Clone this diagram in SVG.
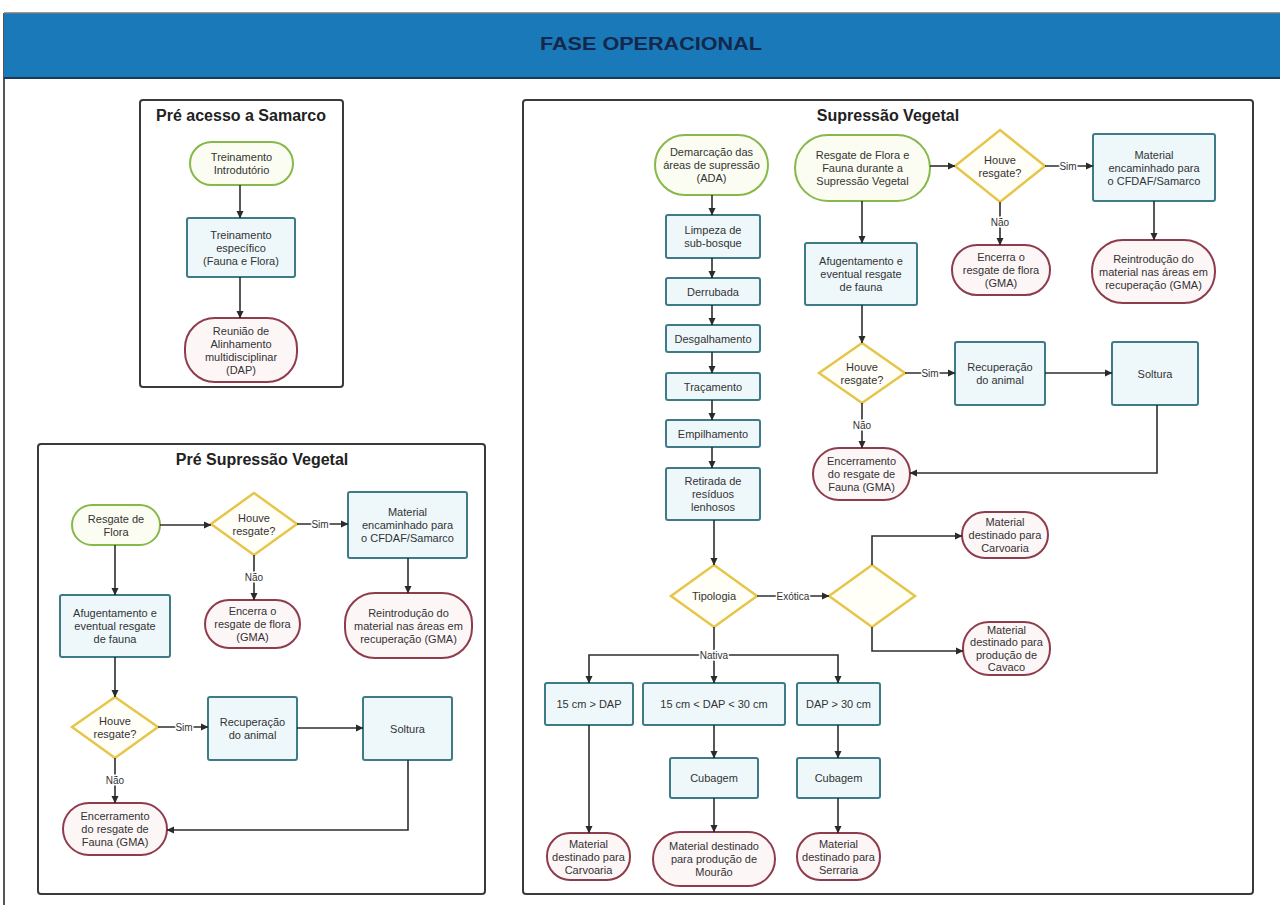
<svg xmlns="http://www.w3.org/2000/svg" width="1280" height="905" viewBox="0 0 1280 905">
<defs>
<marker id="arr" markerUnits="userSpaceOnUse" markerWidth="8" markerHeight="8" refX="7" refY="4" orient="auto">
<path d="M0,0.5 L7.5,4 L0,7.5 z" fill="#2a2a2a"/>
</marker>
<style>
.grp{fill:#fff;stroke:#3a3a3a;stroke-width:2}
.start{fill:#fbfdf2;stroke:#86b84a;stroke-width:2}
.proc{fill:#eef8fb;stroke:#3e7b86;stroke-width:2}
.end{fill:#fdf6f7;stroke:#8e3b4c;stroke-width:2}
.dec{fill:#fffef7;stroke:#e6c64a;stroke-width:2.5}
text{font-family:"Liberation Sans",Arial,sans-serif}
.t{font-size:11px;fill:#333;text-anchor:middle}
.ttl{font-size:16px;font-weight:bold;fill:#222;text-anchor:middle}
.lbl{font-size:10px;fill:#333;text-anchor:middle;stroke:#fff;stroke-width:3;paint-order:stroke}
.e{fill:none;stroke:#2e2e2e;stroke-width:1.6;marker-end:url(#arr)}
.en{fill:none;stroke:#2e2e2e;stroke-width:1.6}
</style>
</defs>
<rect x="0" y="0" width="1280" height="905" fill="#fff"/>
<g id="header">
<line x1="4" y1="13" x2="4" y2="905" stroke="#555" stroke-width="2"/>
<rect x="4" y="13" width="1280" height="65" fill="#1a79b9"/>
<line x1="4" y1="13" x2="1280" y2="13" stroke="#777" stroke-width="1.5"/>
<line x1="4" y1="78" x2="1280" y2="78" stroke="#1c3a58" stroke-width="2"/>
<text x="651" y="50" font-size="19" font-weight="bold" fill="#13284a" text-anchor="middle" textLength="222" lengthAdjust="spacingAndGlyphs">FASE OPERACIONAL</text>
</g>

<g id="pre-acesso">
<rect class="grp" x="140" y="100" width="203" height="287" rx="3"/>
<text class="ttl" x="241" y="121">Pré acesso a Samarco</text>
</g>
<g id="pa1"><rect class="start" x="190" y="142" width="103" height="43" rx="21.5"/><text class="t" x="241.5" y="161">Treinamento<tspan x="241.5" dy="13">Introdutório</tspan></text></g>
<g id="pa2"><rect class="proc" x="187" y="218" width="108" height="59" rx="2"/><text class="t" x="241" y="238.5">Treinamento<tspan x="241" dy="13">específico</tspan><tspan x="241" dy="13">(Fauna e Flora)</tspan></text></g>
<g id="pa3"><rect class="end" x="185" y="318" width="112" height="64" rx="30"/><text class="t" x="241" y="334.5">Reunião de<tspan x="241" dy="13">Alinhamento</tspan><tspan x="241" dy="13">multidisciplinar</tspan><tspan x="241" dy="13">(DAP)</tspan></text></g>

<g id="pre-supressao">
<rect class="grp" x="38" y="444" width="447" height="450" rx="3"/>
<text class="ttl" x="262" y="465">Pré Supressão Vegetal</text>
</g>
<g id="ps1"><rect class="start" x="72" y="505" width="88" height="40" rx="20"/><text class="t" x="116" y="522.5">Resgate de<tspan x="116" dy="13">Flora</tspan></text></g>
<g id="ps2"><polygon class="dec" points="254,493 297,524 254,555 211,524"/><text class="t" x="254" y="521.5">Houve<tspan x="254" dy="13">resgate?</tspan></text></g>
<g id="ps3"><rect class="proc" x="348" y="492" width="119" height="66" rx="2"/><text class="t" x="407.5" y="516">Material<tspan x="407.5" dy="13">encaminhado para</tspan><tspan x="407.5" dy="13">o CFDAF/Samarco</tspan></text></g>
<g id="ps4"><rect class="end" x="205" y="600" width="95" height="48" rx="24"/><text class="t" x="252.5" y="615">Encerra o<tspan x="252.5" dy="13">resgate de flora</tspan><tspan x="252.5" dy="13">(GMA)</tspan></text></g>
<g id="ps5"><rect class="end" x="345" y="593" width="127" height="65" rx="30"/><text class="t" x="408.5" y="616.5">Reintrodução do<tspan x="408.5" dy="13">material nas áreas em</tspan><tspan x="408.5" dy="13">recuperação (GMA)</tspan></text></g>
<g id="ps6"><rect class="proc" x="60" y="595" width="110" height="62" rx="2"/><text class="t" x="115" y="617">Afugentamento e<tspan x="115" dy="13">eventual resgate</tspan><tspan x="115" dy="13">de fauna</tspan></text></g>
<g id="ps7"><polygon class="dec" points="115,697 158,727 115,758 72,727"/><text class="t" x="115" y="724.5">Houve<tspan x="115" dy="13">resgate?</tspan></text></g>
<g id="ps8"><rect class="proc" x="208" y="697" width="89" height="63" rx="2"/><text class="t" x="252.5" y="726">Recuperação<tspan x="252.5" dy="13">do animal</tspan></text></g>
<g id="ps9"><rect class="proc" x="363" y="697" width="89" height="63" rx="2"/><text class="t" x="407.5" y="732.5">Soltura</text></g>
<g id="ps10"><rect class="end" x="63" y="803" width="104" height="52" rx="26"/><text class="t" x="115" y="820">Encerramento<tspan x="115" dy="13">do resgate de</tspan><tspan x="115" dy="13">Fauna (GMA)</tspan></text></g>

<g id="supressao">
<rect class="grp" x="523" y="100" width="730" height="794" rx="3"/>
<text class="ttl" x="888" y="121">Supressão Vegetal</text>
</g>
<g id="s1"><rect class="start" x="655" y="135" width="113" height="60" rx="30"/><text class="t" x="711.5" y="156">Demarcação das<tspan x="711.5" dy="13">áreas de supressão</tspan><tspan x="711.5" dy="13">(ADA)</tspan></text></g>
<g id="s2"><rect class="proc" x="666" y="215" width="94" height="43" rx="2"/><text class="t" x="713" y="234">Limpeza de<tspan x="713" dy="13">sub-bosque</tspan></text></g>
<g id="s3"><rect class="proc" x="666" y="278" width="94" height="27" rx="2"/><text class="t" x="713" y="295.5">Derrubada</text></g>
<g id="s4"><rect class="proc" x="666" y="325" width="94" height="27" rx="2"/><text class="t" x="713" y="342.5">Desgalhamento</text></g>
<g id="s5"><rect class="proc" x="666" y="373" width="94" height="27" rx="2"/><text class="t" x="713" y="390.5">Traçamento</text></g>
<g id="s6"><rect class="proc" x="666" y="420" width="94" height="27" rx="2"/><text class="t" x="713" y="437.5">Empilhamento</text></g>
<g id="s7"><rect class="proc" x="666" y="468" width="94" height="52" rx="2"/><text class="t" x="713" y="485">Retirada de<tspan x="713" dy="13">resíduos</tspan><tspan x="713" dy="13">lenhosos</tspan></text></g>
<g id="s8"><polygon class="dec" points="714,565 757,596 714,627 671,596"/><text class="t" x="714" y="600">Tipologia</text></g>
<g id="s9"><polygon class="dec" points="872,565 915,596 872,627 829,596"/></g>
<g id="s10"><rect class="end" x="962" y="512" width="86" height="46" rx="23"/><text class="t" x="1005" y="526">Material<tspan x="1005" dy="13">destinado para</tspan><tspan x="1005" dy="13">Carvoaria</tspan></text></g>
<g id="s11"><rect class="end" x="963" y="622" width="87" height="53" rx="26"/><text class="t" x="1006.5" y="634">Material<tspan x="1006.5" dy="12.3">destinado para</tspan><tspan x="1006.5" dy="12.3">produção de</tspan><tspan x="1006.5" dy="12.3">Cavaco</tspan></text></g>
<g id="s12"><rect class="proc" x="545" y="683" width="88" height="42" rx="2"/><text class="t" x="589" y="708">15 cm &gt; DAP</text></g>
<g id="s13"><rect class="proc" x="643" y="683" width="142" height="42" rx="2"/><text class="t" x="714" y="708">15 cm &lt; DAP &lt; 30 cm</text></g>
<g id="s14"><rect class="proc" x="797" y="683" width="83" height="42" rx="2"/><text class="t" x="838.5" y="708">DAP &gt; 30 cm</text></g>
<g id="s15"><rect class="proc" x="670" y="758" width="88" height="40" rx="2"/><text class="t" x="714" y="782">Cubagem</text></g>
<g id="s16"><rect class="proc" x="797" y="758" width="83" height="40" rx="2"/><text class="t" x="838.5" y="782">Cubagem</text></g>
<g id="s17"><rect class="end" x="547" y="833" width="83" height="47" rx="23"/><text class="t" x="588.5" y="847.5">Material<tspan x="588.5" dy="13">destinado para</tspan><tspan x="588.5" dy="13">Carvoaria</tspan></text></g>
<g id="s18"><rect class="end" x="653" y="832" width="122" height="54" rx="27"/><text class="t" x="714" y="850">Material destinado<tspan x="714" dy="13">para produção de</tspan><tspan x="714" dy="13">Mourão</tspan></text></g>
<g id="s19"><rect class="end" x="797" y="833" width="83" height="47" rx="23"/><text class="t" x="838.5" y="847.5">Material<tspan x="838.5" dy="13">destinado para</tspan><tspan x="838.5" dy="13">Serraria</tspan></text></g>
<g id="s20"><rect class="start" x="795" y="135" width="135" height="66" rx="33"/><text class="t" x="862.5" y="159">Resgate de Flora e<tspan x="862.5" dy="13">Fauna durante a</tspan><tspan x="862.5" dy="13">Supressão Vegetal</tspan></text></g>
<g id="s21"><polygon class="dec" points="1000,130 1045,166 1000,202 955,166"/><text class="t" x="1000" y="163.5">Houve<tspan x="1000" dy="13">resgate?</tspan></text></g>
<g id="s22"><rect class="proc" x="1093" y="134" width="122" height="67" rx="2"/><text class="t" x="1154" y="158.5">Material<tspan x="1154" dy="13">encaminhado para</tspan><tspan x="1154" dy="13">o CFDAF/Samarco</tspan></text></g>
<g id="s23"><rect class="end" x="952" y="245" width="98" height="50" rx="25"/><text class="t" x="1001" y="261">Encerra o<tspan x="1001" dy="13">resgate de flora</tspan><tspan x="1001" dy="13">(GMA)</tspan></text></g>
<g id="s24"><rect class="end" x="1092" y="240" width="123" height="63" rx="31"/><text class="t" x="1153.5" y="262.5">Reintrodução do<tspan x="1153.5" dy="13">material nas áreas em</tspan><tspan x="1153.5" dy="13">recuperação (GMA)</tspan></text></g>
<g id="s25"><rect class="proc" x="805" y="243" width="112" height="62" rx="2"/><text class="t" x="861" y="265">Afugentamento e<tspan x="861" dy="13">eventual resgate</tspan><tspan x="861" dy="13">de fauna</tspan></text></g>
<g id="s26"><polygon class="dec" points="862,343 905,373 862,403 819,373"/><text class="t" x="862" y="370.5">Houve<tspan x="862" dy="13">resgate?</tspan></text></g>
<g id="s27"><rect class="proc" x="955" y="342" width="90" height="63" rx="2"/><text class="t" x="1000" y="371">Recuperação<tspan x="1000" dy="13">do animal</tspan></text></g>
<g id="s28"><rect class="proc" x="1112" y="342" width="86" height="63" rx="2"/><text class="t" x="1155" y="377.5">Soltura</text></g>
<g id="s29"><rect class="end" x="813" y="448" width="97" height="52" rx="26"/><text class="t" x="861.5" y="465">Encerramento<tspan x="861.5" dy="13">do resgate de</tspan><tspan x="861.5" dy="13">Fauna (GMA)</tspan></text></g>

<g id="connectors">
<path class="e" d="M240,185 V218"/>
<path class="e" d="M240,277 V318"/>

<path class="e" d="M160,525 H211"/>
<path class="e" d="M297,524 H348"/>
<path class="e" d="M254,555 V600"/>
<path class="e" d="M408,558 V593"/>
<path class="e" d="M115,545 V595"/>
<path class="e" d="M115,657 V697"/>
<path class="e" d="M158,727 H208"/>
<path class="e" d="M297,728 H363"/>
<path class="e" d="M115,758 V803"/>
<path class="e" d="M408,760 V830 H167"/>

<path class="e" d="M712,195 V215"/>
<path class="e" d="M712,258 V278"/>
<path class="e" d="M712,305 V325"/>
<path class="e" d="M712,352 V373"/>
<path class="e" d="M712,400 V420"/>
<path class="e" d="M712,447 V468"/>
<path class="e" d="M714,520 V565"/>
<path class="e" d="M757,596 H829"/>
<path class="e" d="M872,565 V536 H962"/>
<path class="e" d="M872,627 V651 H963"/>
<path class="en" d="M714,627 V655"/>
<path class="e" d="M714,655 H589 V683"/>
<path class="e" d="M714,655 V683"/>
<path class="e" d="M714,655 H838 V683"/>
<path class="e" d="M589,725 V833"/>
<path class="e" d="M714,725 V758"/>
<path class="e" d="M714,798 V832"/>
<path class="e" d="M838,725 V758"/>
<path class="e" d="M838,798 V833"/>
<path class="e" d="M930,166 H955"/>
<path class="e" d="M1045,166 H1093"/>
<path class="e" d="M1000,202 V245"/>
<path class="e" d="M1154,201 V240"/>
<path class="e" d="M862,201 V243"/>
<path class="e" d="M862,305 V343"/>
<path class="e" d="M905,373 H955"/>
<path class="e" d="M1045,373 H1112"/>
<path class="e" d="M862,403 V448"/>
<path class="e" d="M1157,405 V473 H910"/>

<text class="lbl" x="320" y="527.5">Sim</text>
<text class="lbl" x="254" y="581">Não</text>
<text class="lbl" x="184" y="730.5">Sim</text>
<text class="lbl" x="115" y="784">Não</text>
<text class="lbl" x="1068" y="169.5">Sim</text>
<text class="lbl" x="1000" y="226">Não</text>
<text class="lbl" x="930" y="376.5">Sim</text>
<text class="lbl" x="862" y="429">Não</text>
<text class="lbl" x="793" y="599.5">Exótica</text>
<text class="lbl" x="714" y="658.5">Nativa</text>
</g>
</svg>
